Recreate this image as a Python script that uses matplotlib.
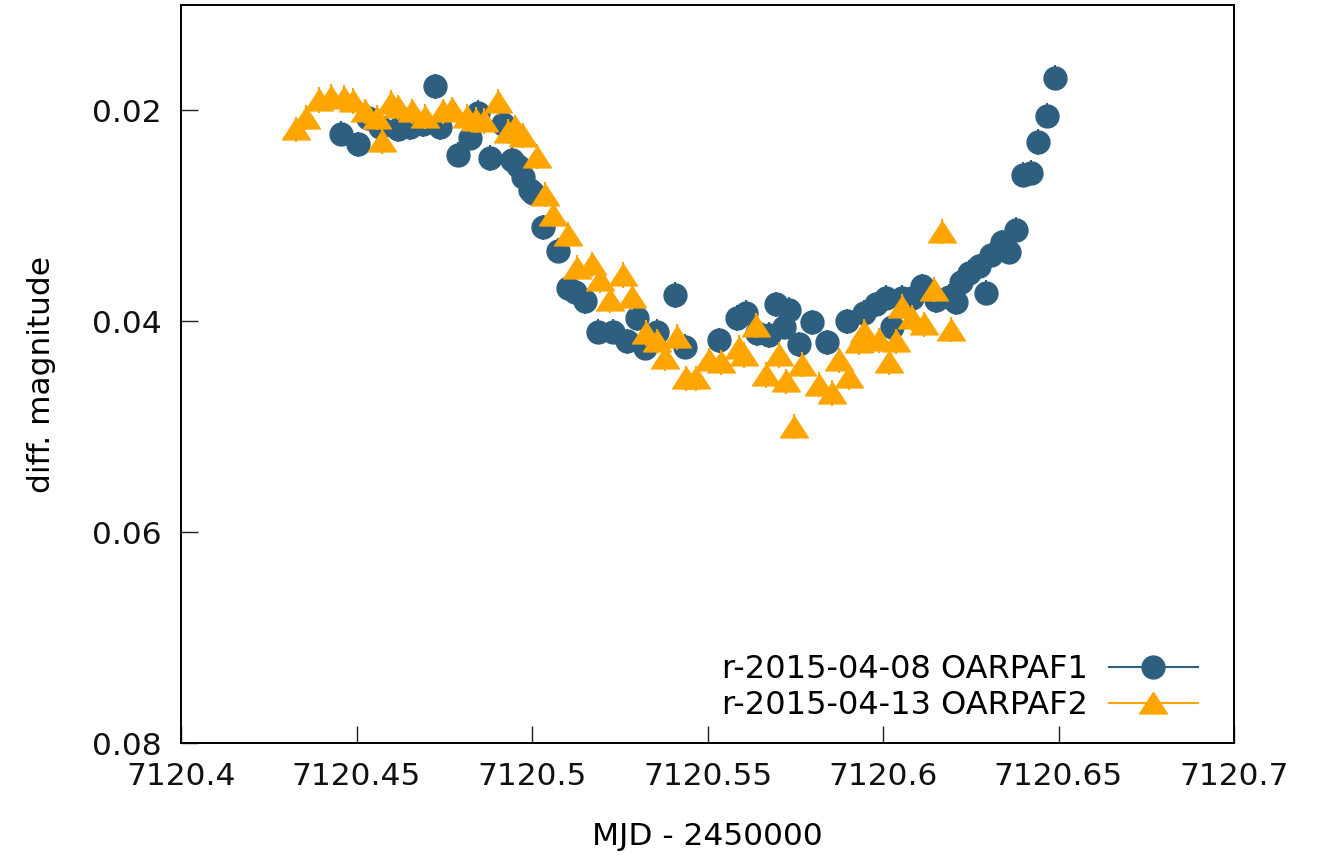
import matplotlib
matplotlib.use("Agg")
import matplotlib.pyplot as plt
from matplotlib.lines import Line2D

# r-2015-04-08 OARPAF1
mjd1 = [7120.4455, 7120.4503, 7120.4534, 7120.4568, 7120.4619, 7120.4653, 7120.4690,
        7120.4724, 7120.4739, 7120.4790, 7120.4824, 7120.4847, 7120.4881, 7120.4917,
        7120.4943, 7120.4960, 7120.4974, 7120.4994, 7120.5003, 7120.5031, 7120.5074,
        7120.5102, 7120.5122, 7120.5151, 7120.5188, 7120.5230, 7120.5270, 7120.5298,
        7120.5321, 7120.5355, 7120.5406, 7120.5435, 7120.5534, 7120.5585, 7120.5611,
        7120.5642, 7120.5676, 7120.5696, 7120.5719, 7120.5733, 7120.5761, 7120.5798,
        7120.5841, 7120.5898, 7120.5946, 7120.5980, 7120.6009, 7120.6026, 7120.6054,
        7120.6082, 7120.6111, 7120.6151, 7120.6188, 7120.6207, 7120.6222, 7120.6244,
        7120.6273, 7120.6293, 7120.6309, 7120.6338, 7120.6358, 7120.6380, 7120.6400,
        7120.6423, 7120.6443, 7120.6466, 7120.6491]
mag1 = [0.0222, 0.0232, 0.0207, 0.0216, 0.0218, 0.0216, 0.0213,
        0.0177, 0.0216, 0.0242, 0.0226, 0.0202, 0.0245, 0.0213,
        0.0247, 0.0253, 0.0263, 0.0275, 0.0278, 0.0311, 0.0333,
        0.0368, 0.0372, 0.0381, 0.0410, 0.0410, 0.0419, 0.0397,
        0.0425, 0.0410, 0.0375, 0.0424, 0.0418, 0.0397, 0.0392,
        0.0411, 0.0413, 0.0384, 0.0405, 0.0389, 0.0422, 0.0401,
        0.0420, 0.0400, 0.0392, 0.0384, 0.0378, 0.0405, 0.0378,
        0.0378, 0.0367, 0.0380, 0.0377, 0.0382, 0.0363, 0.0354,
        0.0348, 0.0373, 0.0337, 0.0325, 0.0334, 0.0313, 0.0261,
        0.0259, 0.0230, 0.0205, 0.0169]

# r-2015-04-13 OARPAF2
mjd2 = [7120.4327, 7120.4355, 7120.4392, 7120.4426, 7120.4463, 7120.4489, 7120.4525,
        7120.4557, 7120.4574, 7120.4597, 7120.4619, 7120.4659, 7120.4696, 7120.4747,
        7120.4773, 7120.4815, 7120.4841, 7120.4863, 7120.4903, 7120.4932, 7120.4951,
        7120.4974, 7120.5014, 7120.5037, 7120.5060, 7120.5102, 7120.5128, 7120.5170,
        7120.5193, 7120.5221, 7120.5258, 7120.5284, 7120.5326, 7120.5355, 7120.5378,
        7120.5412, 7120.5440, 7120.5468, 7120.5505, 7120.5539, 7120.5591, 7120.5605,
        7120.5639, 7120.5667, 7120.5705, 7120.5724, 7120.5747, 7120.5769, 7120.5818,
        7120.5855, 7120.5875, 7120.5903, 7120.5932, 7120.5946, 7120.5989, 7120.6017,
        7120.6037, 7120.6054, 7120.6082, 7120.6116, 7120.6145, 7120.6167, 7120.6193]
mag2 = [0.0218, 0.0207, 0.0190, 0.0187, 0.0188, 0.0191, 0.0201,
        0.0207, 0.0229, 0.0193, 0.0197, 0.0201, 0.0206, 0.0201,
        0.0199, 0.0206, 0.0209, 0.0210, 0.0192, 0.0220, 0.0216,
        0.0224, 0.0244, 0.0280, 0.0299, 0.0318, 0.0349, 0.0346,
        0.0361, 0.0380, 0.0356, 0.0377, 0.0411, 0.0419, 0.0435,
        0.0415, 0.0454, 0.0454, 0.0437, 0.0439, 0.0425, 0.0432,
        0.0404, 0.0451, 0.0432, 0.0457, 0.0500, 0.0441, 0.0460,
        0.0468, 0.0437, 0.0453, 0.0420, 0.0410, 0.0418, 0.0439,
        0.0419, 0.0386, 0.0397, 0.0403, 0.0370, 0.0315, 0.0408]

err = 0.0012
labels = ["r-2015-04-08 OARPAF1", "r-2015-04-13 OARPAF2"]
x_ticks = [7120.4, 7120.45, 7120.5, 7120.55, 7120.6, 7120.65, 7120.7]
y_ticks = [0.02, 0.04, 0.06, 0.08]

blue = "#2e5f7f"
orange = "#ffa500"
# gnuplot-like triangle: a bit wider than tall
tri = [(0, 0.8), (-1, -0.75), (1, -0.75), (0, 0.8)]

plt.rcParams["font.family"] = "DejaVu Sans"
plt.rcParams["font.size"] = 22.5

fig = plt.figure(figsize=(13.17, 8.58), dpi=100)
ax = fig.add_axes([181 / 1317, 1 - 743 / 858, (1234 - 181) / 1317, (743 - 5) / 858])

ax.errorbar(mjd1, mag1, yerr=err, fmt="o", color=blue, ms=16.5,
            elinewidth=1.5, capsize=0, zorder=2)
ax.errorbar(mjd2, mag2, yerr=err, fmt="none", ecolor=orange,
            elinewidth=1.5, capsize=0, zorder=3)
ax.plot(mjd2, mag2, ls="none", marker=tri, color=orange, ms=20, zorder=3.5)

ax.set_xlim(7120.4, 7120.7)
ax.set_ylim(0.08, 0.01)
ax.set_xticks(x_ticks)
ax.set_xticklabels(["{:g}".format(round(t, 2)) for t in x_ticks])
ax.set_yticks(y_ticks)
ax.set_yticklabels(["{:.2f}".format(t) for t in y_ticks])

ax.tick_params(direction="in", length=12, width=1, pad=14, colors="#222222",
               labelcolor="#111111")
for s in ax.spines.values():
    s.set_linewidth(1.4)

ax.set_xlabel("MJD - 2450000", labelpad=22)
ax.set_ylabel("diff. magnitude", labelpad=26)

handles = [
    Line2D([], [], color=blue, marker="o", ms=16.5, lw=1.5),
    Line2D([], [], color=orange, marker=tri, ms=20, lw=1.5),
]
leg = ax.legend(handles, labels, loc="lower right", bbox_to_anchor=(0.978, 0.012),
                frameon=False, markerfirst=False, handlelength=2.8, labelspacing=0.17,
                handletextpad=0.65, borderaxespad=0, borderpad=0.4, fontsize=23)
leg.set_zorder(5)

plt.savefig("out.png", dpi=100)
